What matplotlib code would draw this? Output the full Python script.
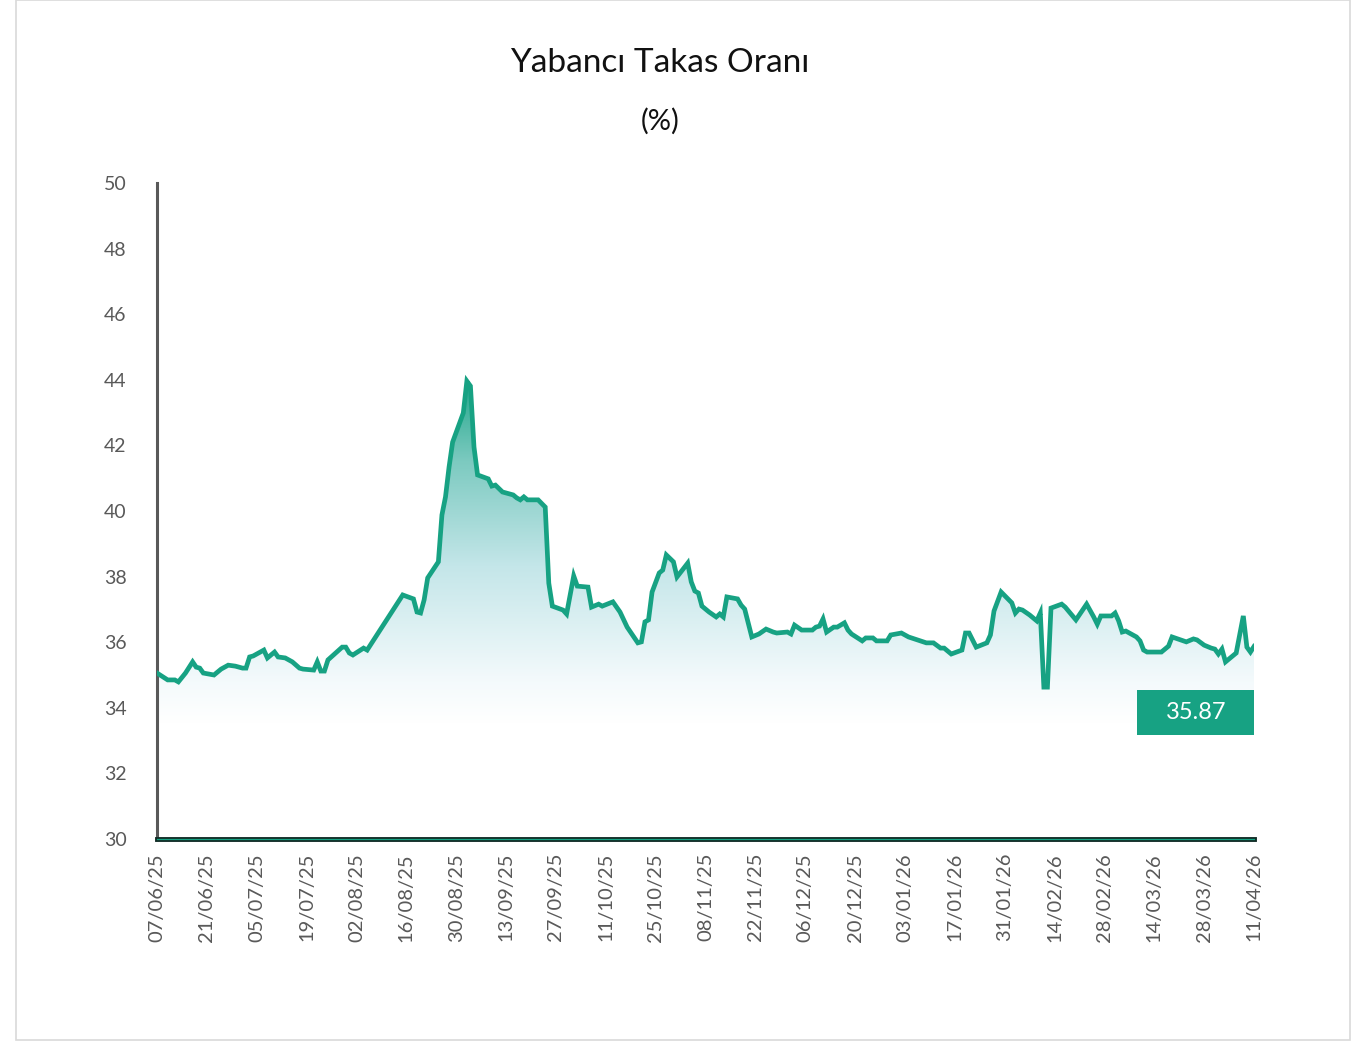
import numpy as np
import pandas as pd
import matplotlib
matplotlib.use("Agg")
import matplotlib.pyplot as plt
import matplotlib.dates as mdates
from matplotlib.colors import LinearSegmentedColormap
from matplotlib.patches import Rectangle

plt.rcParams['font.family'] = ['Lato', 'DejaVu Sans']

# Values (foreign ownership ratio, %)
dates = [
    "2025-06-07", "2025-06-10", "2025-06-12", "2025-06-13", "2025-06-15", "2025-06-17",
    "2025-06-18", "2025-06-19", "2025-06-20", "2025-06-23", "2025-06-24", "2025-06-25",
    "2025-06-27", "2025-06-29", "2025-07-01", "2025-07-02", "2025-07-03", "2025-07-04",
    "2025-07-07", "2025-07-08", "2025-07-10", "2025-07-11", "2025-07-13", "2025-07-15",
    "2025-07-17", "2025-07-18", "2025-07-21", "2025-07-22", "2025-07-23", "2025-07-24",
    "2025-07-25", "2025-07-29", "2025-07-30", "2025-07-31", "2025-08-01", "2025-08-04",
    "2025-08-05", "2025-08-15", "2025-08-18", "2025-08-19", "2025-08-20", "2025-08-21",
    "2025-08-22", "2025-08-25", "2025-08-26", "2025-08-27", "2025-08-28", "2025-08-29",
    "2025-09-01", "2025-09-02", "2025-09-03", "2025-09-04", "2025-09-05", "2025-09-08",
    "2025-09-09", "2025-09-10", "2025-09-12", "2025-09-15", "2025-09-16", "2025-09-17",
    "2025-09-18", "2025-09-19", "2025-09-22", "2025-09-24", "2025-09-25", "2025-09-26",
    "2025-09-29", "2025-09-30", "2025-10-02", "2025-10-03", "2025-10-06", "2025-10-07",
    "2025-10-09", "2025-10-10", "2025-10-13", "2025-10-15", "2025-10-17", "2025-10-20",
    "2025-10-21", "2025-10-22", "2025-10-23", "2025-10-24", "2025-10-26", "2025-10-27",
    "2025-10-28", "2025-10-30", "2025-10-31", "2025-11-03", "2025-11-04", "2025-11-05",
    "2025-11-06", "2025-11-07", "2025-11-09", "2025-11-11", "2025-11-12", "2025-11-13",
    "2025-11-14", "2025-11-17", "2025-11-18", "2025-11-19", "2025-11-21", "2025-11-23",
    "2025-11-25", "2025-11-27", "2025-11-28", "2025-12-01", "2025-12-02", "2025-12-03",
    "2025-12-05", "2025-12-08", "2025-12-09", "2025-12-10", "2025-12-11", "2025-12-12",
    "2025-12-14", "2025-12-15", "2025-12-17", "2025-12-18", "2025-12-19", "2025-12-22",
    "2025-12-23", "2025-12-25", "2025-12-26", "2025-12-29", "2025-12-30", "2026-01-02",
    "2026-01-04", "2026-01-09", "2026-01-11", "2026-01-13", "2026-01-14", "2026-01-16",
    "2026-01-19", "2026-01-20", "2026-01-21", "2026-01-23", "2026-01-26", "2026-01-27",
    "2026-01-28", "2026-01-30", "2026-02-02", "2026-02-03", "2026-02-04", "2026-02-05",
    "2026-02-07", "2026-02-09", "2026-02-10", "2026-02-11", "2026-02-12", "2026-02-13",
    "2026-02-16", "2026-02-17", "2026-02-20", "2026-02-23", "2026-02-25", "2026-02-26",
    "2026-02-27", "2026-03-02", "2026-03-03", "2026-03-04", "2026-03-05", "2026-03-06",
    "2026-03-09", "2026-03-10", "2026-03-11", "2026-03-12", "2026-03-16", "2026-03-18",
    "2026-03-19", "2026-03-23", "2026-03-25", "2026-03-26", "2026-03-28", "2026-03-30",
    "2026-03-31", "2026-04-01", "2026-04-02", "2026-04-03", "2026-04-06", "2026-04-08",
    "2026-04-09", "2026-04-10", "2026-04-11",
]
values = [
    35.06, 34.85, 34.85, 34.79, 35.06, 35.40,
    35.24, 35.21, 35.06, 35.00, 35.09, 35.18,
    35.30, 35.27, 35.21, 35.21, 35.55, 35.58,
    35.76, 35.52, 35.70, 35.55, 35.52, 35.40,
    35.21, 35.18, 35.15, 35.40, 35.12, 35.12,
    35.46, 35.85, 35.85, 35.67, 35.61, 35.82,
    35.76, 37.44, 37.32, 36.92, 36.89, 37.29,
    37.96, 38.45, 39.88, 40.43, 41.34, 42.10,
    42.99, 43.96, 43.81, 41.95, 41.10, 40.98,
    40.76, 40.79, 40.58, 40.49, 40.40, 40.34,
    40.43, 40.34, 40.34, 40.12, 37.80, 37.10,
    36.98, 36.86, 38.02, 37.71, 37.68, 37.07,
    37.16, 37.10, 37.23, 36.92, 36.46, 35.98,
    36.01, 36.62, 36.68, 37.53, 38.11, 38.20,
    38.66, 38.45, 37.99, 38.41, 37.84, 37.56,
    37.50, 37.10, 36.92, 36.77, 36.86, 36.77,
    37.38, 37.32, 37.13, 37.01, 36.16, 36.25,
    36.40, 36.31, 36.28, 36.31, 36.25, 36.52,
    36.37, 36.37, 36.46, 36.49, 36.71, 36.31,
    36.46, 36.46, 36.59, 36.37, 36.25, 36.04,
    36.13, 36.13, 36.04, 36.04, 36.22, 36.28,
    36.16, 35.98, 35.98, 35.82, 35.82, 35.64,
    35.76, 36.28, 36.28, 35.85, 35.98, 36.22,
    36.95, 37.53, 37.20, 36.89, 37.01, 36.98,
    36.83, 36.65, 36.89, 34.63, 34.63, 37.04,
    37.16, 37.07, 36.68, 37.16, 36.77, 36.55,
    36.80, 36.80, 36.89, 36.65, 36.31, 36.34,
    36.16, 36.04, 35.76, 35.70, 35.70, 35.88,
    36.16, 36.01, 36.10, 36.07, 35.91, 35.82,
    35.79, 35.64, 35.79, 35.40, 35.67, 36.80,
    35.85, 35.70, 35.87,
]
tick_start = "2025-06-07"
tick_end = "2026-04-11"

title = "Yabancı Takas Oranı"
subtitle = "(%)"

x = pd.to_datetime(dates)
y = np.array(values)
teal = "#17a283"
grey = "#595959"

fig = plt.figure(figsize=(13.71, 10.46), dpi=100)
fig.patches.append(Rectangle((16 / 1371, 6 / 1046), 1334 / 1371, 1040 / 1046,
                             transform=fig.transFigure, fill=False,
                             edgecolor="#d9d9d9", linewidth=1.2))
ax = fig.add_axes([157 / 1371, 207 / 1046, 1097 / 1371, 656 / 1046])

# gradient fill under the line
cmap = LinearSegmentedColormap.from_list(
    "tealfade", [(0.0, "#ffffff"), (0.12, "#f4fafc"), (0.45, "#c4e6e9"),
                 (0.75, "#7ccac0"), (1.0, "#19a385")])
grad = np.linspace(0, 1, 256).reshape(-1, 1)
x0, x1 = mdates.date2num(x[0]), mdates.date2num(x[-1])
im = ax.imshow(grad, extent=[x0, x1, 33.5, 44.2], origin="lower", aspect="auto",
               cmap=cmap, zorder=1)
poly = ax.fill_between(x, y, 30, color="none", linewidth=0)
im.set_clip_path(poly.get_paths()[0], transform=ax.transData)
ax.set_xlim(pd.Timestamp(tick_start), pd.Timestamp(tick_end))
ax.set_ylim(30, 50)

ax.plot(x, y, color=teal, linewidth=3.4, zorder=3, solid_joinstyle="miter")

# last value label
ax.add_patch(Rectangle((0.8933, 0.1585), 0.1067, 0.0686, transform=ax.transAxes,
                       facecolor=teal, edgecolor="none", zorder=4))
ax.text(0.947, 0.1935, f"{values[-1]:.2f}", transform=ax.transAxes, ha="center",
        va="center", color="white", fontsize=17, zorder=5)

# axes styling
for s in ["top", "right"]:
    ax.spines[s].set_visible(False)
ax.spines["left"].set_color(grey)
ax.spines["left"].set_linewidth(2.2)
ax.spines["bottom"].set_color("#0f2a24")
ax.spines["bottom"].set_linewidth(3.5)
ax.axhline(30, color=teal, linewidth=0.9, zorder=6, clip_on=False)

ax.set_yticks(np.arange(30, 51, 2))
ticks = pd.date_range(tick_start, tick_end, freq="14D")
ax.set_xticks(ticks)
ax.xaxis.set_major_formatter(mdates.DateFormatter("%d/%m/%y"))
ax.tick_params(axis="y", length=0, pad=22, labelsize=14, labelcolor=grey)
ax.tick_params(axis="x", length=0, pad=10, labelsize=14.5, labelcolor=grey,
               labelrotation=90)

fig.text(660 / 1371, 1 - 63 / 1046, title, ha="center", va="center", fontsize=24,
         color="#111111")
fig.text(660 / 1371, 1 - 121 / 1046, subtitle, ha="center", va="center",
         fontsize=21, color="#111111")

fig.savefig("out.png", dpi=100)
